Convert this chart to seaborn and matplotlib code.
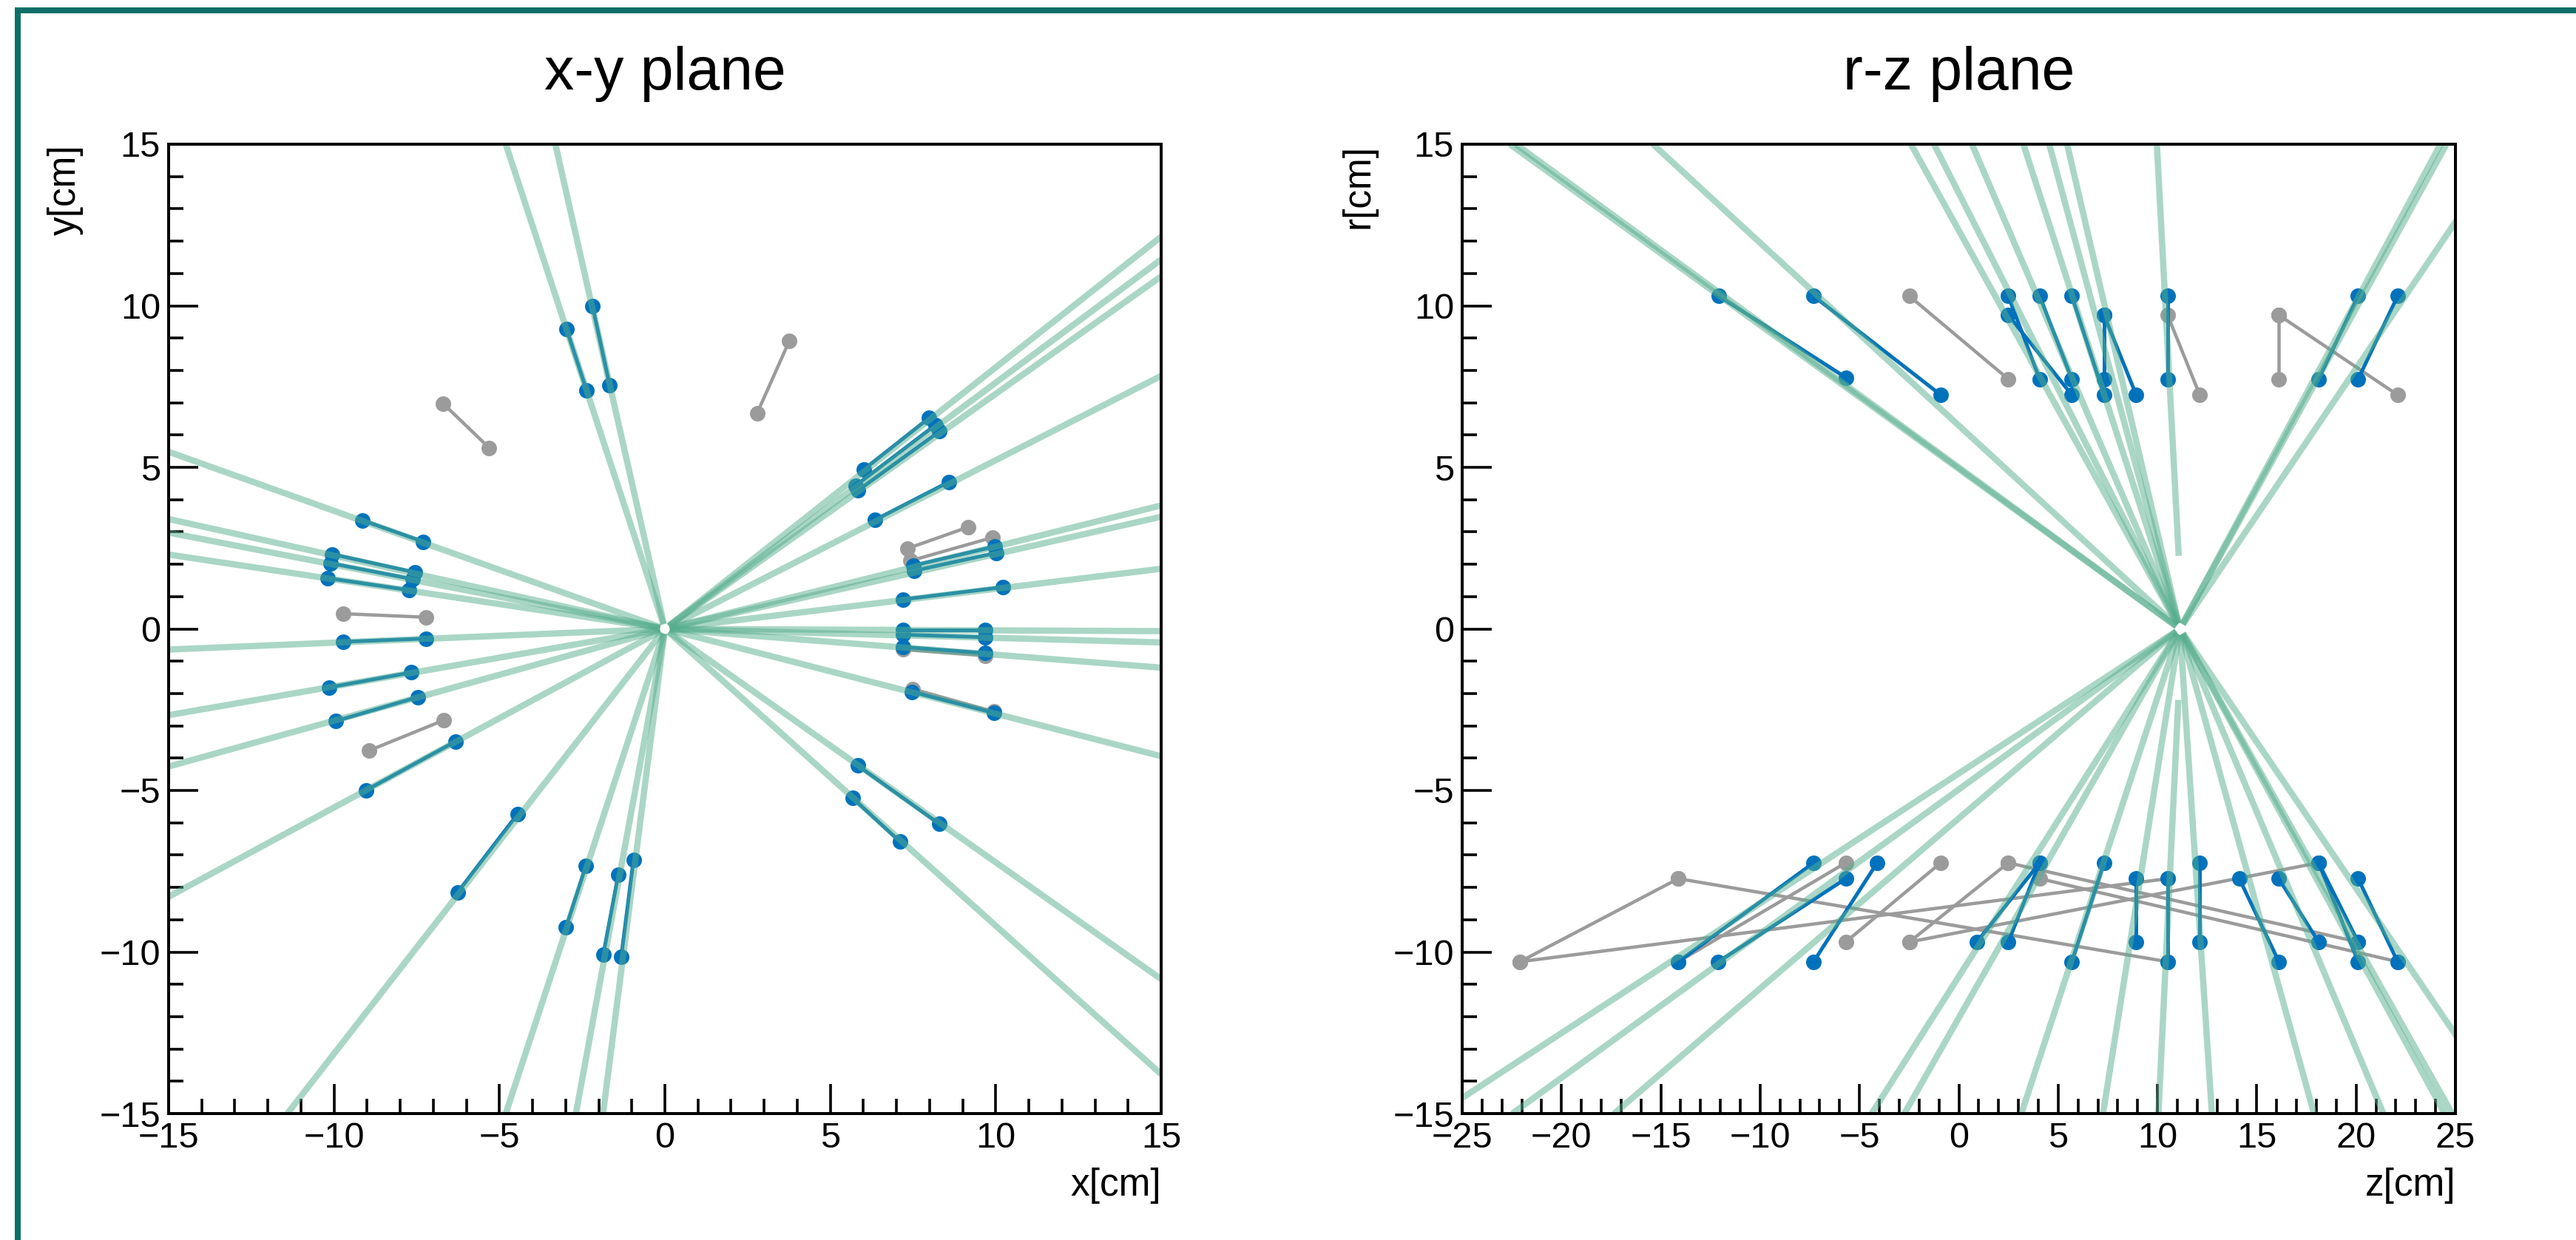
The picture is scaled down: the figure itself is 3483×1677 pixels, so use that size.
import numpy as np
import pandas as pd
import matplotlib
matplotlib.use("Agg")
import matplotlib.pyplot as plt
from matplotlib.ticker import MultipleLocator
from matplotlib.lines import Line2D
import seaborn as sns

W, H, DPI = 3483, 1677, 100

# ---------------- x-y plane ----------------
# hit pairs (inner layer -> outer layer) attached to a track
xy_blue_x_in = [-2.37, -1.67, 6.01, 5.76, 5.83, 6.35, 7.51, 7.53, 7.19, 7.19, 7.19, 7.19, 7.47,
                5.83, 5.68, -4.45, -2.39, -1.41, -0.95, -7.31, -7.56, -7.63, -7.73, -7.23, -7.67,
                -7.46, -6.32]
xy_blue_y_in = [7.39, 7.54, 4.93, 4.43, 4.28, 3.37, 1.96, 1.80, 0.91, -0.03, -0.18, -0.56, -1.95,
                -4.23, -5.24, -5.73, -7.34, -7.61, -7.16, 2.70, 1.75, 1.54, 1.20, -0.30, -1.35,
                -2.11, -3.48]
xy_blue_x_out = [-2.97, -2.19, 7.99, 8.18, 8.30, 8.59, 9.97, 10.01, 10.21, 9.68, 9.68, 9.68, 9.94,
                 8.30, 7.10, -6.27, -2.99, -1.86, -1.32, -9.14, -10.05, -10.10, -10.20, -9.73,
                 -10.14, -9.94, -9.04]
xy_blue_y_out = [9.27, 10.00, 6.53, 6.31, 6.11, 4.55, 2.55, 2.35, 1.29, -0.03, -0.26, -0.75, -2.60,
                 -6.04, -6.58, -8.16, -9.24, -10.07, -10.15, 3.36, 2.31, 2.03, 1.57, -0.40, -1.81,
                 -2.85, -5.00]

# hit pairs without a matching track
xy_gray_x_in = [-5.31, 2.79, 7.34, 7.43, -7.23, -6.69, 7.19, 7.49]
xy_gray_y_in = [5.60, 6.68, 2.49, 2.11, 0.36, -2.83, -0.64, -1.86]
xy_gray_x_out = [-6.70, 3.76, 9.17, 9.91, -9.73, -8.95, 9.68, 9.94]
xy_gray_y_out = [6.97, 8.91, 3.15, 2.83, 0.47, -3.77, -0.83, -2.56]

# reconstructed tracks: point where each leaves the frame
xy_track_x_end = [-4.81, -3.31, 15, 15, 15, 15, 15, 15, 15, 15, 15, 15, 15, 15, 15,
                  -1.87, -2.69, -4.81, -11.41, -15, -15, -15, -15, -15, -15, -15, -15]
xy_track_y_end = [15, 15, 12.14, 11.43, 10.91, 7.83, 3.82, 3.47, 1.86, -0.07, -0.42, -1.20,
                  -3.94, -10.84, -13.78, -15, -15, -15, -15, 5.48, 3.40, 2.98, 2.30, -0.64,
                  -2.67, -4.26, -8.29]
xy_vertex = (0.0, 0.0)

# ---------------- r-z plane ----------------
rz_blue_z_a = [-12.08, -7.31, 2.49, 2.49, 4.07, 5.69, 7.31, 7.31, 10.51, 20.10, 22.09,
               -14.12, -12.10, -7.31, 0.91, 2.49, 5.69, 8.93, 10.51, 12.13, 16.11, 18.11,
               20.10, 20.10, 22.09]
rz_blue_r_a = [10.30, 10.30, 10.30, 9.71, 10.30, 10.30, 9.71, 9.71, 10.30, 10.30, 10.30,
               -10.30, -10.30, -10.30, -9.69, -9.69, -10.30, -9.69, -10.30, -9.69, -10.30,
               -9.69, -9.69, -10.30, -10.30]
rz_blue_z_b = [-5.69, -0.91, 4.07, 5.69, 5.69, 7.31, 7.31, 8.93, 10.51, 18.11, 20.10,
               -7.31, -5.69, -4.11, 4.07, 4.07, 7.31, 8.93, 10.51, 12.13, 14.12, 16.11,
               18.11, 18.11, 20.10]
rz_blue_r_b = [7.78, 7.24, 7.73, 7.24, 7.73, 7.24, 7.73, 7.24, 7.73, 7.73, 7.73,
               -7.24, -7.73, -7.24, -7.24, -7.24, -7.24, -7.73, -7.73, -7.24, -7.73, -7.73,
               -7.24, -7.24, -7.73]

rz_gray_z_a = [-2.49, 10.51, 16.11, 16.11, -22.09, -22.09, -14.12, -5.69, -0.91, -2.49,
               -2.49, 2.49, 4.07]
rz_gray_r_a = [10.30, 9.71, 9.71, 9.71, -10.30, -10.30, -7.73, -7.24, -7.24, -9.69,
               -9.69, -7.24, -7.73]
rz_gray_z_b = [2.49, 12.13, 16.11, 22.09, -14.12, 10.51, 10.51, -14.12, -5.69, 2.49,
               18.11, 20.10, 22.09]
rz_gray_r_b = [7.73, 7.24, 7.73, 7.24, -7.73, -7.73, -10.30, -10.30, -9.69, -7.24,
               -7.24, -9.69, -10.30]

# tracks from the vertex: z where |r| reaches 15, and the sign of r
rz_track_z_end = [-22.6, -22.3, -15.4, -2.41, -1.25, 0.66, 3.25, 4.55, 5.45, 24.25, 24.55, 27.65,
                  -26.2, -22.48, -17.35, -4.39, -2.74, 3.15, 7.26, 12.74, 17.88, 21.37, 24.46,
                  24.83, 27.7]
rz_track_side = [1, 1, 1, 1, 1, 1, 1, 1, 1, 1, 1, 1,
                 -1, -1, -1, -1, -1, -1, -1, -1, -1, -1, -1, -1, -1]
rz_vertex = (11.13, 0.0)

# short tracks that do not reach the vertex
rz_stub_z_in = [11.07, 11.05]
rz_stub_r_in = [2.26, -2.20]
rz_stub_z_out = [9.97, 10.05]
rz_stub_r_out = [15.0, -15.0]

# ---------------- style ----------------
TRACK_COLOR = "#57ae8e"
BLUE = "#0072bb"
GRAY = "#9b9b9b"
FRAME = "#0b6f68"
PX = 72.0 / DPI  # points per pixel

sns.set_theme(style="white")
plt.rcParams["font.family"] = ["Liberation Sans", "DejaVu Sans"]
plt.rcParams["axes.unicode_minus"] = True
plt.rcParams["text.color"] = "black"


def pair_frame(xa, ya, xb, yb):
    rows = []
    for i, (x1, y1, x2, y2) in enumerate(zip(xa, ya, xb, yb)):
        rows.append((i, x1, y1))
        rows.append((i, x2, y2))
    return pd.DataFrame(rows, columns=["seg", "x", "y"])


def track_frame(vertex, xe, ye, gap):
    rows = []
    vx, vy = vertex
    for i, (x2, y2) in enumerate(zip(xe, ye)):
        d = np.array([x2 - vx, y2 - vy], dtype=float)
        u = d / np.hypot(*d)
        rows.append((i, vx + gap * u[0], vy + gap * u[1]))
        rows.append((i, x2, y2))
    return pd.DataFrame(rows, columns=["seg", "x", "y"])


def draw_hits(ax, df, color, lw, z):
    sns.lineplot(data=df, x="x", y="y", units="seg", estimator=None, sort=False,
                 color=color, linewidth=lw, legend=False, ax=ax, zorder=z)
    sns.scatterplot(data=df, x="x", y="y", color=color, s=(21 * PX) ** 2, linewidth=0,
                    legend=False, ax=ax, zorder=z + 0.1)


def draw_tracks(ax, df):
    sns.lineplot(data=df, x="x", y="y", units="seg", estimator=None, sort=False,
                 color=TRACK_COLOR, alpha=0.5, linewidth=8.5 * PX, legend=False, ax=ax,
                 zorder=5, solid_capstyle="butt")


def style_axes(ax, xmax, xlabel, ylabel):
    ax.set_xlim(-xmax, xmax)
    ax.set_ylim(-15, 15)
    ax.set_xlabel("")
    ax.set_ylabel("")
    ax.xaxis.set_major_locator(MultipleLocator(5))
    ax.yaxis.set_major_locator(MultipleLocator(5))
    ax.xaxis.set_minor_locator(MultipleLocator(1))
    ax.yaxis.set_minor_locator(MultipleLocator(1))
    ax.tick_params(which="both", direction="in", bottom=True, left=True, top=False,
                   right=False, color="black", width=2.6, labelcolor="black")
    ax.tick_params(which="major", length=40 * PX, labelsize=35, pad=8)
    ax.tick_params(which="minor", length=20 * PX)
    for sp in ax.spines.values():
        sp.set_visible(True)
        sp.set_color("black")
        sp.set_linewidth(4 * PX)
        sp.set_zorder(10)
    ax.text(1.0, -0.074, xlabel, transform=ax.transAxes, ha="right", va="center",
            fontsize=37)
    ax.text(-0.104, 1.0, ylabel, transform=ax.transAxes, rotation=90, ha="center",
            va="top", fontsize=37)


fig = plt.figure(figsize=(W / DPI, H / DPI), dpi=DPI)
fig.patch.set_facecolor("white")
ax_xy = fig.add_axes([228 / W, 171 / H, 1342 / W, 1311 / H])
ax_rz = fig.add_axes([1977 / W, 171 / H, 1343 / W, 1311 / H])

# x-y view
draw_hits(ax_xy, pair_frame(xy_gray_x_in, xy_gray_y_in, xy_gray_x_out, xy_gray_y_out),
          GRAY, 4.5 * PX, 2)
draw_hits(ax_xy, pair_frame(xy_blue_x_in, xy_blue_y_in, xy_blue_x_out, xy_blue_y_out),
          BLUE, 5.0 * PX, 3)
draw_tracks(ax_xy, track_frame(xy_vertex, xy_track_x_end, xy_track_y_end, 0.15))
style_axes(ax_xy, 15, "x[cm]", "y[cm]")

# r-z view
draw_hits(ax_rz, pair_frame(rz_gray_z_a, rz_gray_r_a, rz_gray_z_b, rz_gray_r_b),
          GRAY, 4.5 * PX, 2)
draw_hits(ax_rz, pair_frame(rz_blue_z_a, rz_blue_r_a, rz_blue_z_b, rz_blue_r_b),
          BLUE, 5.0 * PX, 3)
rz_r_end = [15.0 * s for s in rz_track_side]
draw_tracks(ax_rz, track_frame(rz_vertex, rz_track_z_end, rz_r_end, 0.2))
stub_df = pair_frame(rz_stub_z_in, rz_stub_r_in, rz_stub_z_out, rz_stub_r_out)
stub_df["seg"] += 100
draw_tracks(ax_rz, stub_df)
style_axes(ax_rz, 25, "z[cm]", "r[cm]")

# panel titles
for ax, title in [(ax_xy, "x-y plane"), (ax_rz, "r-z plane")]:
    pos = ax.get_position()
    fig.text(pos.x0 + pos.width / 2, 1 - 121 / H, title, ha="center", va="baseline",
             fontsize=58)

# canvas frame
fx, fy = 23.5 / W, 1 - 13.5 / H
frame_kw = dict(color=FRAME, linewidth=8 * PX, transform=fig.transFigure,
                solid_capstyle="projecting")
fig.add_artist(Line2D([fx, fx], [-0.05, fy], **frame_kw))
fig.add_artist(Line2D([fx, 1.05], [fy, fy], **frame_kw))

fig.savefig("out.png", dpi=DPI, facecolor="white")
